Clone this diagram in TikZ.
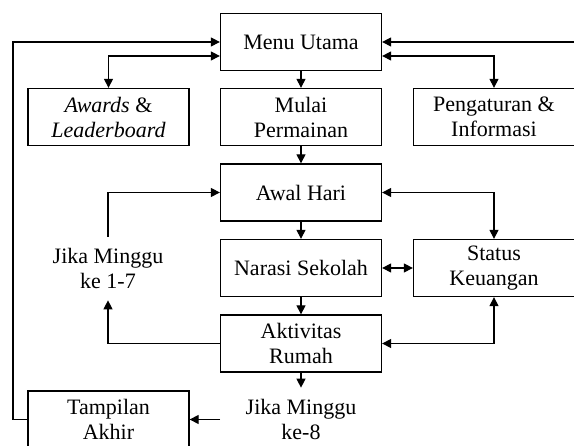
\documentclass[tikz,border=0pt]{standalone}
\usepackage{fontspec}
\setmainfont{Liberation Serif}
\usetikzlibrary{arrows.meta}

\begin{document}
\begin{tikzpicture}[x=1pt, y=1pt, line width=1.2pt,
        >={Triangle[length=9pt,width=9pt]},
        every node/.append style={font=\fontsize{22}{25}\selectfont},
        box/.style={draw, line width=1.3pt, minimum width=161pt, minimum height=57pt, align=center, inner sep=2pt},
        lbl/.style={align=center, inner ysep=11pt}]
        \useasboundingbox (0,0) rectangle (574,446);

        % Free ends of the outer loops
        \coordinate (lc)  at (13,404);
        \coordinate (rin) at (574,404);

        % Boxes
        \node[box] (menu)    at (301,404)   {Menu Utama};
        \node[box] (awards)  at (108.5,329) {\textit{Awards} \&\\\textit{Leaderboard}};
        \node[box] (mulai)   at (301,329)   {Mulai\\Permainan};
        \node[box] (setting) at (494,329)   {Pengaturan \&\\Informasi};
        \node[box] (awal)    at (301,253.5) {Awal Hari};
        \node[box] (narasi)  at (301,178)   {Narasi Sekolah};
        \node[box] (status)  at (494,178)   {Status\\Keuangan};
        \node[box] (aktiv)   at (301,102.5) {Aktivitas\\Rumah};
        \node[box] (tampil)  at (108.5,26.5) {Tampilan\\Akhir};

        % Conditions
        \node[lbl] (jika1) at (108,177.5) {Jika Minggu\\ke 1-7};
        \node[lbl, inner xsep=25pt] (jika8) at (301,26.5) {Jika Minggu\\ke-8};

        % Menu connections
        \draw[->]  (tampil.west) -| (lc) -- (menu.west);
        \draw[->]  (rin) -- (menu.east);
        \draw[<->] ([yshift=-14pt]menu.west) -| (awards.north);
        \draw[<->] ([yshift=-14pt]menu.east) -| (setting.north);
        \draw[->]  (menu) -- (mulai);
        \draw[->]  (mulai) -- (awal);

        % Daily loop
        \draw[->]  (awal) -- (narasi);
        \draw[->]  (narasi) -- (aktiv);
        \draw[<->] (narasi) -- (status);
        \draw[<->] (awal.east) -| (status.north);
        \draw[<->] (status.south) |- (aktiv.east);
        \draw[->]  (aktiv.west) -| (jika1.south);
        \draw[->]  (jika1.north) |- (awal.west);

        % End of game
        \draw[->]  (aktiv) -- (jika8);
        \draw[->]  (jika8.west) -- (tampil.east);
    \end{tikzpicture}
\end{document}
